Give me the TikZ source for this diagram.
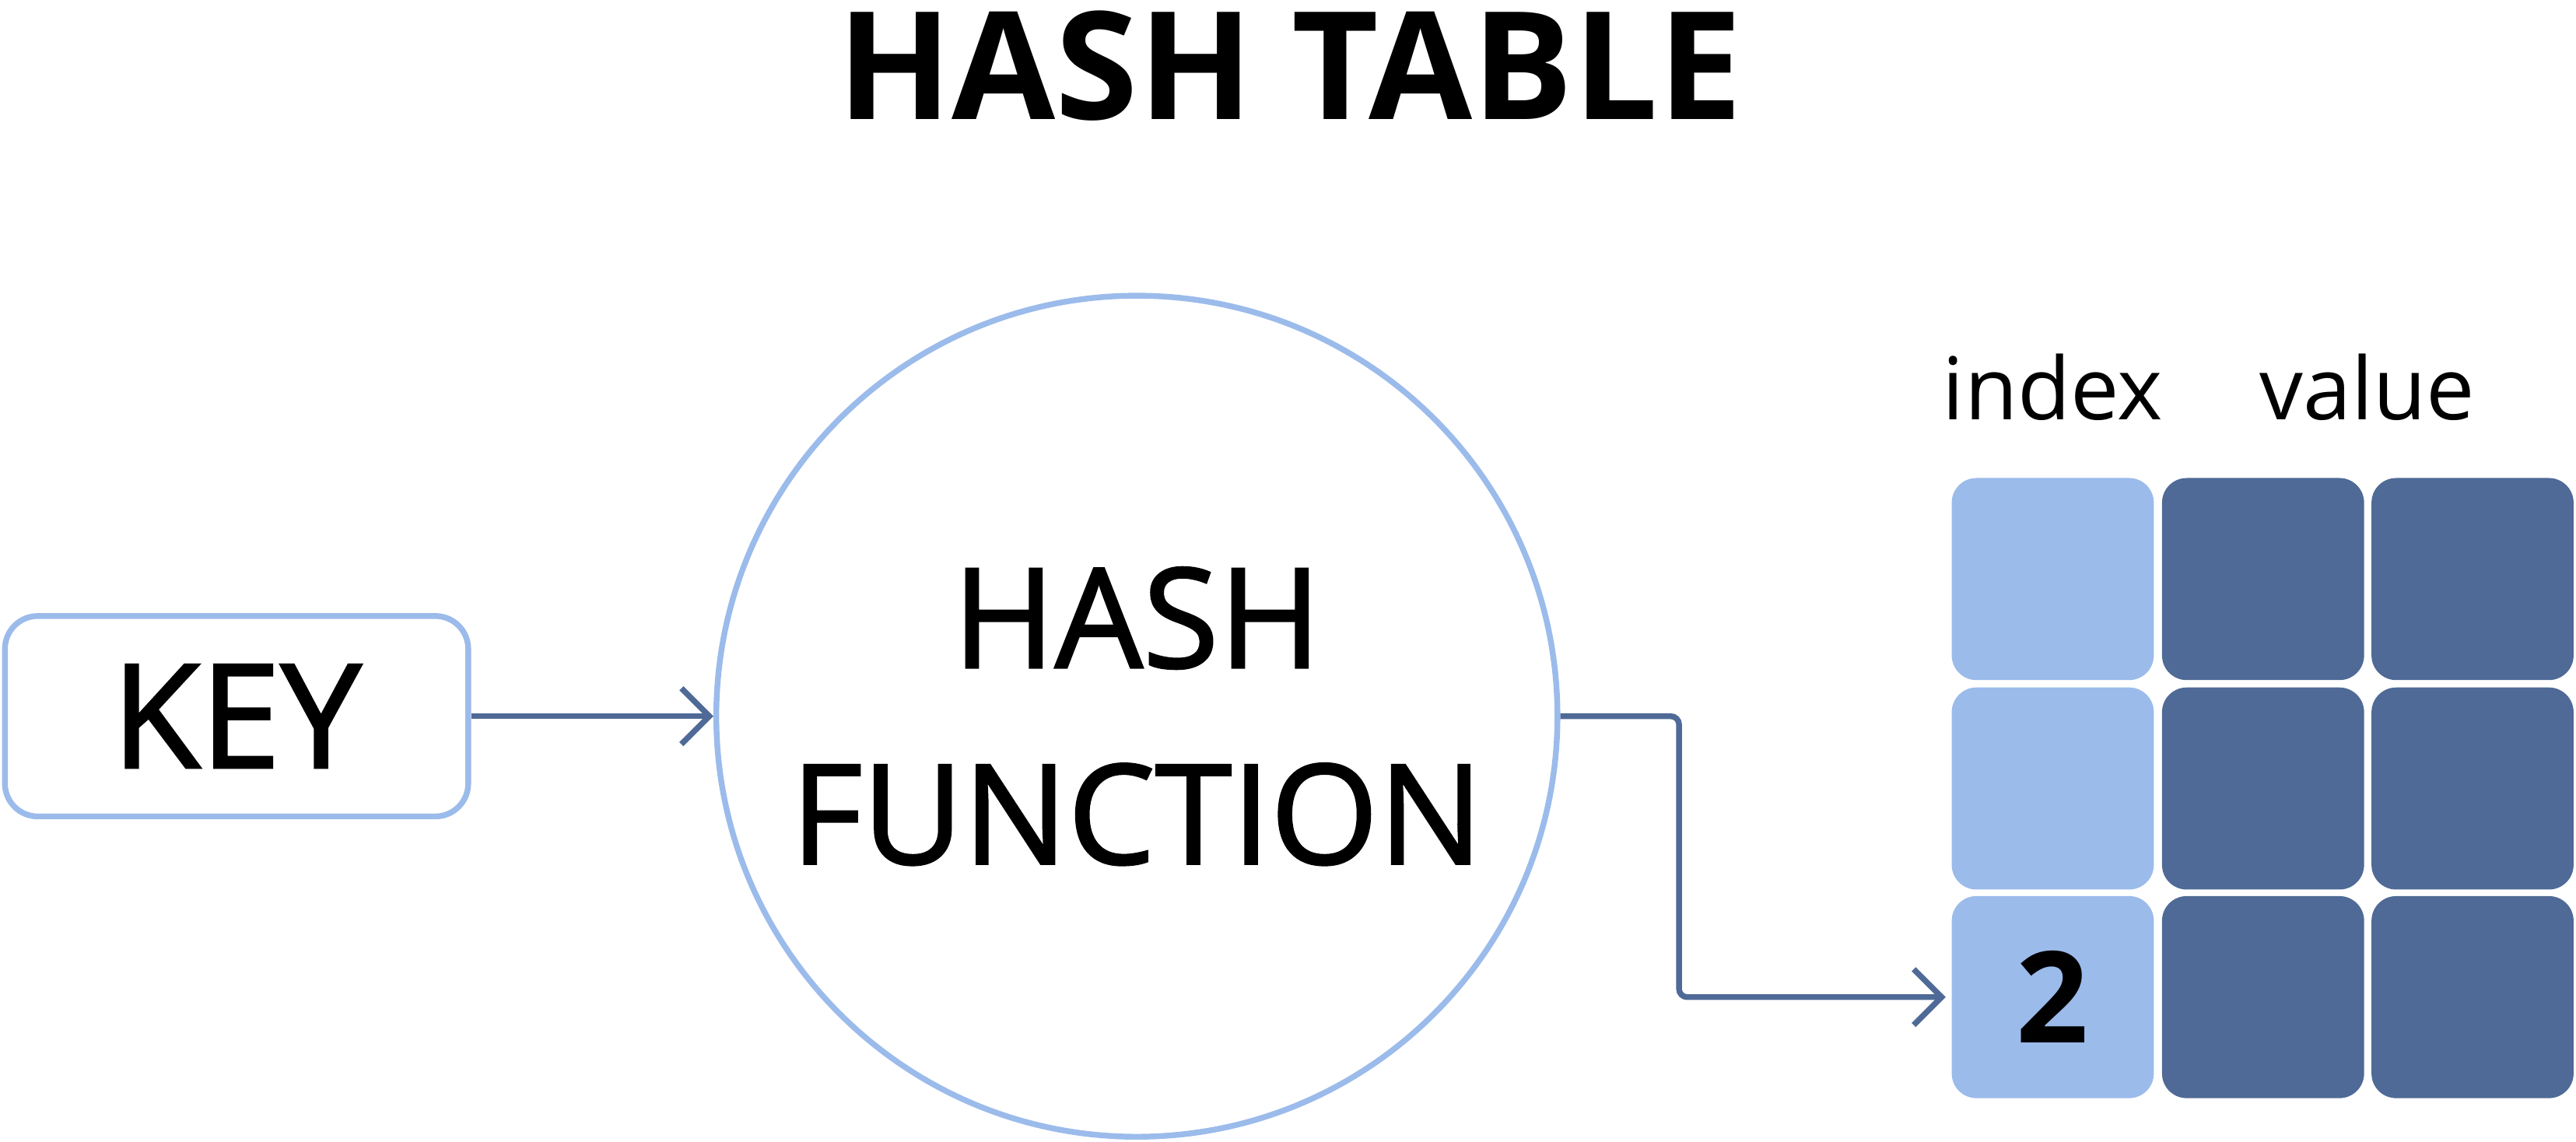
\documentclass[tikz,border=0pt]{standalone}
\usepackage{fontspec}
\setmainfont{Open Sans}
\newfontfamily\semibold[FakeBold=1.6]{Open Sans}
\usetikzlibrary{positioning, arrows.meta}
\definecolor{lightblue}{HTML}{9BBBEB}
\definecolor{darkblue}{HTML}{4F6A96}
\tikzset{
    outline/.style={draw=lightblue, line width=1pt},
    link/.style={draw=darkblue, line width=1pt, -{Straight Barb[length=1.7mm, width=3.4mm]}},
    cell/.style={rounded corners=0.15cm, minimum width=1.23cm, minimum height=1.23cm, inner sep=0pt}
}
\begin{document}
\begin{tikzpicture}[x=1cm, y=1cm]
\useasboundingbox (0,0) rectangle (15.68,6.95);
\node[font=\fontsize{26}{30}\selectfont\bfseries] (title) at (7.85,6.55) {HASH TABLE};

\node[outline, rounded corners=0.2cm, minimum width=2.82cm, minimum height=1.22cm, font=\fontsize{25}{30}\selectfont\semibold] (key) at (1.44,2.59) {KEY};

\node[outline, circle, minimum size=5.12cm, align=center, font=\fontsize{24}{34}\selectfont\semibold] (hash) at (6.92,2.59) {HASH\\FUNCTION};

% hash table cells
\foreach \r/\yy in {0/3.425, 1/2.15, 2/0.88} {
    \node[cell, fill=lightblue] (idx\r) at (12.495,\yy) {};
    \node[cell, fill=darkblue] (val\r) at (13.775,\yy) {};
    \node[cell, fill=darkblue] (ext\r) at (15.05,\yy) {};
}
\node[font=\fontsize{22}{26}\selectfont\bfseries] at (idx2) {2};
\node[font=\fontsize{15}{18}\selectfont, above=0.22cm of idx0] (index) {index};
\node[font=\fontsize{15}{18}\selectfont] (value) at (14.41,4.48 |- index) {value};

\draw[link] (key.east) -- (hash.west);
\draw[link, rounded corners=0.05cm] (hash.east) -- (10.22,2.59) |- ([xshift=-0.03cm]idx2.west);
\end{tikzpicture}
\end{document}
